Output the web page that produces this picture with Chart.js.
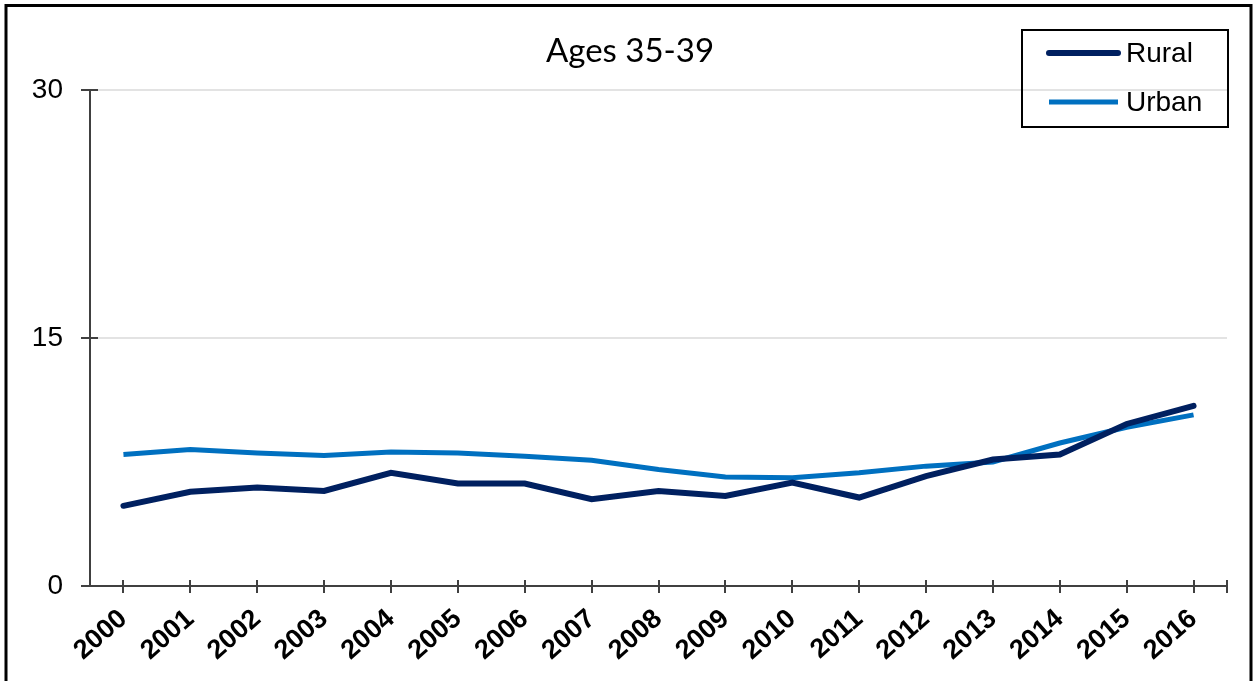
<!DOCTYPE html>
<html>
<head>
<meta charset="utf-8">
<script src="https://cdn.jsdelivr.net/npm/chart.js@4"></script>
<style>
  html, body { margin: 0; padding: 0; background: #fff; }
  #wrap { width: 1253px; height: 681px; position: relative; }
</style>
</head>
<body>
<div id="wrap"><canvas id="chart"></canvas></div>
<script>
const years = ['2000', '2001', '2002', '2003', '2004', '2005', '2006', '2007', '2008',
               '2009', '2010', '2011', '2012', '2013', '2014', '2015', '2016'];
const rural = [4.85, 5.7, 5.95, 5.75, 6.85, 6.2, 6.2, 5.25, 5.75, 5.45, 6.25, 5.35, 6.65, 7.65, 7.95, 9.8, 10.9];
const urban = [7.95, 8.25, 8.05, 7.9, 8.1, 8.05, 7.85, 7.6, 7.05, 6.6, 6.55, 6.85, 7.25, 7.5, 8.65, 9.6, 10.35];
const yTicks = [0, 15, 30];
const titleText = 'Ages 35-39';

const axisColor = '#404040';
const arial = '"Liberation Sans", Arial, sans-serif';

// title, frame, crossing tick marks and boxed legend
const extras = {
    id: 'extras',
    afterDraw(chart) {
        const ctx = chart.ctx;
        const x = chart.scales.x, y = chart.scales.y;
        const area = chart.chartArea;
        ctx.save();
        ctx.strokeStyle = axisColor;
        ctx.lineWidth = 2;
        ctx.beginPath();
        x.ticks.forEach((t, i) => {
            const px = Math.round(x.getPixelForTick(i));
            ctx.moveTo(px, area.bottom - 6);
            ctx.lineTo(px, area.bottom + 7);
        });
        ctx.moveTo(area.right, area.bottom - 6);
        ctx.lineTo(area.right, area.bottom + 7);
        yTicks.forEach(v => {
            const py = Math.round(y.getPixelForValue(v));
            ctx.moveTo(area.left - 9, py);
            ctx.lineTo(area.left + 8, py);
        });
        ctx.stroke();

        // title
        ctx.fillStyle = '#000';
        ctx.font = '33px Lato, "Open Sans", sans-serif';
        ctx.textAlign = 'center';
        ctx.textBaseline = 'alphabetic';
        ctx.fillText(titleText, 630, 62);

        // outer frame
        ctx.strokeStyle = '#000';
        ctx.lineWidth = 3;
        ctx.strokeRect(6, 5.5, 1245, 700);

        // legend
        ctx.lineWidth = 2;
        ctx.strokeRect(1022, 30, 206, 97);
        ctx.font = '28px ' + arial;
        ctx.textAlign = 'left';
        ctx.textBaseline = 'middle';
        chart.data.datasets.forEach((ds, i) => {
            const ly = 53 + i * 49;
            ctx.strokeStyle = ds.borderColor;
            ctx.lineWidth = i === 0 ? 6 : 5;
            ctx.lineCap = i === 0 ? 'round' : 'butt';
            ctx.beginPath();
            ctx.moveTo(1049, ly);
            ctx.lineTo(1118, ly);
            ctx.stroke();
            ctx.fillStyle = '#000';
            ctx.fillText(ds.label, 1126, ly + 1);
        });
        ctx.restore();
    }
};

new Chart(document.getElementById('chart'), {
    type: 'line',
    data: {
        labels: years,
        datasets: [{
            label: 'Rural',
            data: rural,
            borderColor: '#002060',
            borderWidth: 6,
            pointRadius: 0,
            tension: 0,
            borderCapStyle: 'round',
        }, {
            label: 'Urban',
            data: urban,
            borderColor: '#0070C0',
            borderWidth: 5,
            pointRadius: 0,
            tension: 0,
        }],
    },
    options: {
        responsive: true,
        maintainAspectRatio: false,
        animation: false,
        layout: { padding: { left: 0, right: 26, top: 90, bottom: 0 } },
        scales: {
            x: {
                offset: true,
                grid: { display: true, offset: false, drawOnChartArea: false, drawTicks: false },
                border: { color: axisColor, width: 2 },
                ticks: {
                    color: '#000',
                    font: { family: arial, size: 27, weight: 'bold' },
                    minRotation: 41,
                    maxRotation: 41,
                    padding: 17,
                    autoSkip: false,
                },
                afterFit(scale) { scale.height = 95; },
            },
            y: {
                min: 0,
                max: 30,
                afterBuildTicks(scale) { scale.ticks = yTicks.map(v => ({ value: v })); },
                grid: { color: '#e3e3e3', lineWidth: 2, drawTicks: false },
                border: { color: axisColor, width: 2 },
                ticks: {
                    color: '#000',
                    font: { family: arial, size: 28 },
                    padding: 27,
                },
                afterFit(scale) { scale.width = 90; },
            },
        },
        plugins: {
            legend: { display: false },
            tooltip: { enabled: false },
            title: { display: false },
        },
    },
    plugins: [extras],
});
</script>
</body>
</html>
